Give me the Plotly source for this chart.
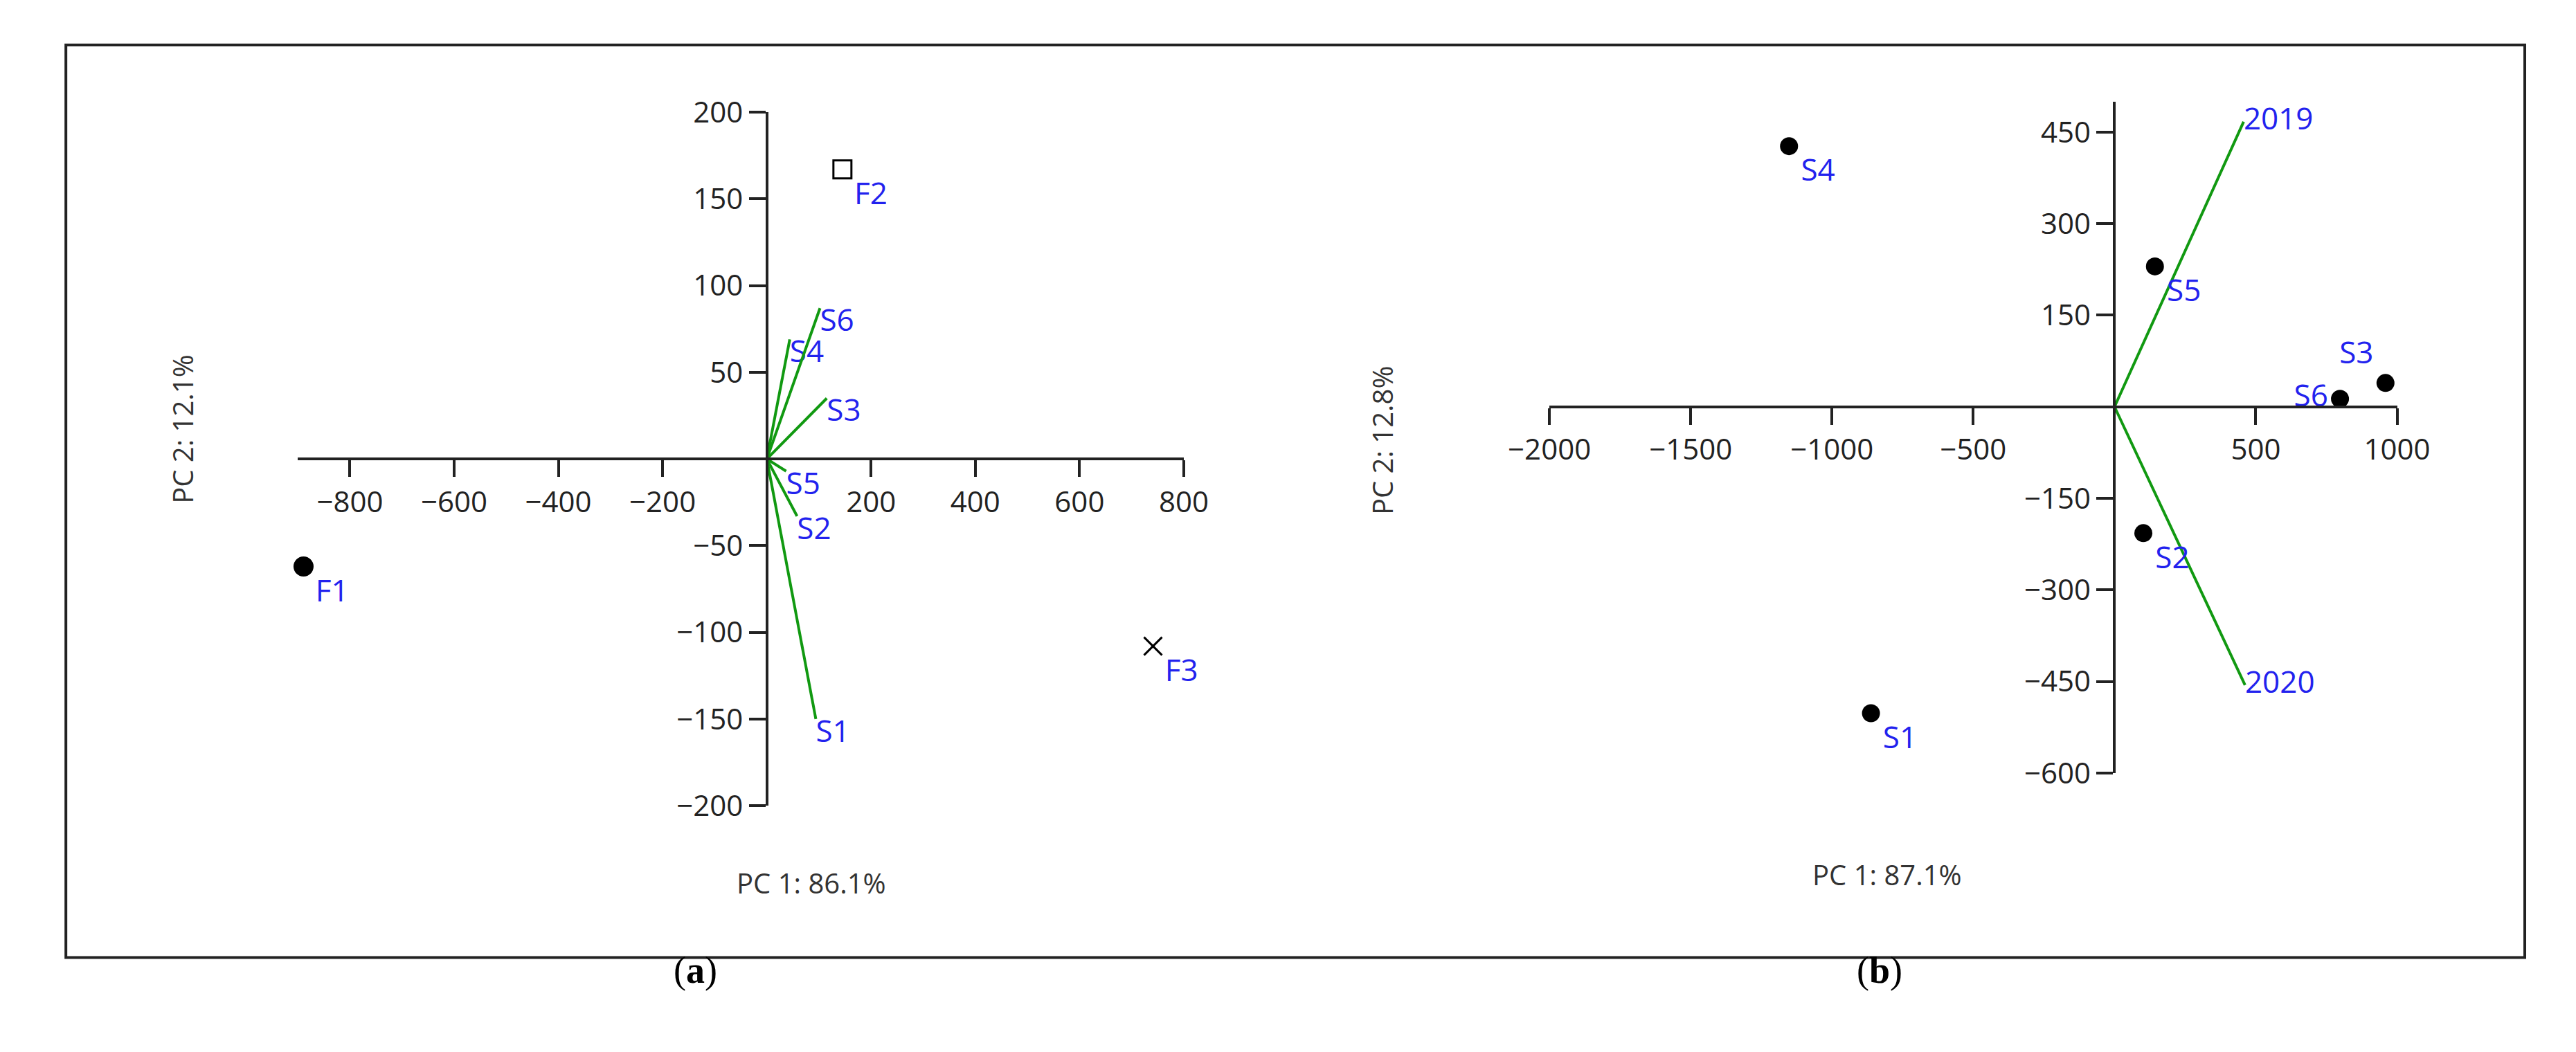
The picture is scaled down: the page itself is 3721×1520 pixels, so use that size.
import plotly.graph_objects as go

# Panel (a)
a_names = ["F1", "F2", "F3"]
a_x = [-889, 145, 741]
a_y = [-62, 167, -108]
a_symbols = ["circle", "square-open", "x-thin-open"]
a_load_names = ["S1", "S2", "S3", "S4", "S5", "S6"]
a_load_x = [94, 58, 115, 44, 37, 102]
a_load_y = [-150, -33, 35, 69, -7, 87]
a_xticks = [-800, -600, -400, -200, 200, 400, 600, 800]
a_yticks = [-200, -150, -100, -50, 50, 100, 150, 200]

# Panel (b)
b_names = ["S1", "S2", "S3", "S4", "S5", "S6"]
b_x = [-862, 102, 959, -1152, 143, 798]
b_y = [-502, -207, 39, 427, 230, 13]
b_load_names = ["2019", "2020"]
b_load_x = [457, 462]
b_load_y = [467, -456]
b_xticks = [-2000, -1500, -1000, -500, 500, 1000]
b_yticks = [-600, -450, -300, -150, 150, 300, 450]

W, H = 3721, 1520
BLUE = "#2222ee"
GREEN = "#119911"
FONT = "Open Sans"

a_xr, a_yr = [-900, 800], [-200, 200]
b_xr, b_yr = [-2000, 1000], [-600, 500]
a_xd, a_yd = [373 / W, 1691 / W], [1 - 1170 / H, 1 - 129 / H]
b_xd, b_yd = [2235 / W, 3496 / W], [1 - 1121 / H, 1 - 113 / H]

def pos(dom, rng):
    return dom[0] + (0 - rng[0]) / (rng[1] - rng[0]) * (dom[1] - dom[0])

fig = go.Figure()

for n, x, y in zip(a_load_names, a_load_x, a_load_y):
    fig.add_trace(go.Scatter(x=[0, x], y=[0, y], mode="lines+text", text=["", n],
                             textposition="bottom right", line=dict(color=GREEN, width=4),
                             textfont=dict(color=BLUE, size=44, family=FONT),
                             xaxis="x", yaxis="y", cliponaxis=False, showlegend=False))
for n, x, y, s in zip(a_names, a_x, a_y, a_symbols):
    fig.add_trace(go.Scatter(x=[x], y=[y], mode="markers+text", text=[n], textposition="bottom right",
                             marker=dict(symbol=s, size=26, color="black", line=dict(color="black", width=3)),
                             textfont=dict(color=BLUE, size=44, family=FONT),
                             xaxis="x", yaxis="y", cliponaxis=False, showlegend=False))

for n, x, y in zip(b_load_names, b_load_x, b_load_y):
    fig.add_trace(go.Scatter(x=[0, x], y=[0, y], mode="lines+text", text=["", n],
                             textposition="middle right", line=dict(color=GREEN, width=4),
                             textfont=dict(color=BLUE, size=44, family=FONT),
                             xaxis="x2", yaxis="y2", cliponaxis=False, showlegend=False))
b_pos = {"S3": "top left", "S6": "middle left"}
fig.add_trace(go.Scatter(x=b_x, y=b_y, mode="markers+text", text=b_names,
                         textposition=[b_pos.get(n, "bottom right") for n in b_names],
                         marker=dict(symbol="circle", size=26, color="black"),
                         textfont=dict(color=BLUE, size=44, family=FONT),
                         xaxis="x2", yaxis="y2", cliponaxis=False, showlegend=False))

ax = dict(showgrid=False, zeroline=False, showline=True, linecolor="#222", linewidth=4,
          ticks="outside", ticklen=24, tickwidth=4, tickcolor="#222",
          tickfont=dict(size=42, family=FONT, color="#222"), anchor="free")

fig.update_layout(
    width=W, height=H, paper_bgcolor="white", plot_bgcolor="white",
    margin=dict(l=0, r=0, t=0, b=0),
    xaxis=dict(ax, domain=a_xd, range=a_xr, tickvals=a_xticks, position=pos(a_yd, a_yr)),
    yaxis=dict(ax, domain=a_yd, range=a_yr, tickvals=a_yticks, position=pos(a_xd, a_xr)),
    xaxis2=dict(ax, domain=b_xd, range=b_xr, tickvals=b_xticks, position=pos(b_yd, b_yr)),
    yaxis2=dict(ax, domain=b_yd, range=b_yr, tickvals=b_yticks, position=pos(b_xd, b_xr)),
)

tf = dict(size=40, family=FONT, color="#333")
for txt, x, y, ang in [("PC 2: 12.1%", 171, 605, -90), ("PC 1: 86.1%", 1024, 1316, 0),
                       ("PC 2: 12.8%", 1986, 621, -90), ("PC 1: 87.1%", 2851, 1304, 0)]:
    fig.add_annotation(text=txt, x=x / W, y=1 - y / H, xref="paper", yref="paper",
                       showarrow=False, textangle=ang, font=tf)
for txt, x in [("(<b>a</b>)", 930), ("(<b>b</b>)", 2762)]:
    fig.add_annotation(text=txt, x=x / W, y=1 - 1450 / H, xref="paper", yref="paper",
                       showarrow=False, font=dict(size=54, family="Liberation Serif", color="black"))
fig.add_shape(type="rect", xref="paper", yref="paper", x0=28 / W, x1=3686 / W,
              y0=1 - 1398 / H, y1=1 - 28 / H, line=dict(color="#222", width=4))

fig.write_html("out.html")
